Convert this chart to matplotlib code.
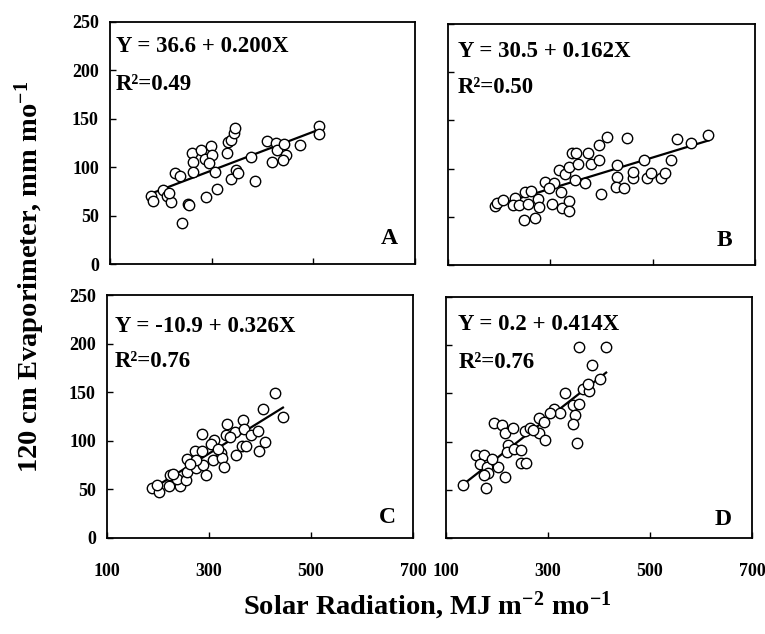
import numpy as np
import matplotlib
matplotlib.use('Agg')
import matplotlib.pyplot as plt

plt.rcParams['font.family'] = ['Liberation Serif', 'DejaVu Serif']
plt.rcParams['font.weight'] = 'bold'
plt.rcParams['mathtext.fontset'] = 'custom'
plt.rcParams['mathtext.rm'] = 'Liberation Serif:bold'
plt.rcParams['mathtext.bf'] = 'Liberation Serif:bold'
plt.rcParams['mathtext.default'] = 'rm'

# panel A
a_x = [180, 184, 204, 212, 220, 216, 227, 237, 241, 253, 255, 261, 264, 263, 280, 298,
       286, 300, 294, 288, 311, 306, 339, 347, 351, 331, 333, 339, 343, 345, 377, 386,
       409, 426, 429, 443, 447, 440, 418, 473, 512, 512]
a_y = [70, 65, 76, 70, 64, 73, 94, 91, 42, 62, 61, 115, 105, 95, 118, 122,
       108, 113, 104, 69, 77, 95, 88, 97, 94, 115, 126, 128, 135, 140, 111, 86,
       127, 125, 118, 124, 113, 107, 105, 123, 143, 134]

# panel B
b_x = [192, 195, 208, 231, 228, 238, 250, 262, 257, 249, 270, 276, 277, 290, 304, 307,
       320, 323, 337, 336, 316, 328, 337, 342, 350, 355, 373, 380, 396, 396, 410, 349,
       368, 399, 430, 430, 428, 444, 449, 461, 462, 483, 488, 496, 516, 525, 536, 548,
       574, 609, 298]
b_y = [61, 64, 67, 69, 62, 62, 76, 77, 63, 47, 49, 68, 60, 86, 63, 85,
       76, 59, 66, 56, 99, 94, 102, 116, 116, 105, 116, 105, 109, 124, 133, 88,
       85, 74, 104, 91, 81, 80, 132, 90, 96, 109, 90, 95, 90, 95, 109, 131,
       127, 135, 80]

# panel C
c_x = [188, 201, 198, 221, 223, 244, 237, 254, 256, 257, 274, 272, 287, 289, 295, 287,
       307, 309, 323, 326, 330, 333, 335, 350, 353, 366, 364, 373, 369, 383, 396, 399,
       410, 406, 429, 445, 303, 274, 318, 342, 230, 262]
c_y = [51, 47, 55, 53, 65, 53, 61, 60, 68, 81, 72, 89, 89, 75, 65, 107,
       80, 101, 87, 82, 73, 106, 117, 109, 85, 121, 95, 95, 112, 106, 110, 89,
       99, 133, 149, 124, 97, 80, 92, 104, 66, 76]

# panel D
d_x = [133, 179, 215, 159, 175, 166, 181, 182, 202, 221, 220, 234, 248, 248, 256, 195,
       209, 215, 231, 254, 264, 282, 293, 282, 295, 312, 323, 303, 333, 349, 360, 353,
       349, 356, 369, 380, 379, 387, 402, 360, 414, 175, 190, 270]
d_y = [55, 52, 63, 86, 86, 77, 74, 67, 74, 96, 89, 92, 91, 78, 78, 119,
       117, 109, 114, 111, 114, 124, 120, 109, 102, 134, 130, 130, 150, 138, 139, 128,
       118, 99, 155, 153, 160, 179, 165, 198, 198, 65, 82, 112]

intercepts = [36.6, 30.5, -10.9, 0.2]
slopes = [0.200, 0.162, 0.326, 0.414]
eq_text = ['Y = 36.6 + 0.200X', 'Y = 30.5 + 0.162X', 'Y = -10.9 + 0.326X', 'Y = 0.2 + 0.414X']
r2_text = ['R\u00b2=0.49', 'R\u00b2=0.50', 'R\u00b2=0.76', 'R\u00b2=0.76']
letters = ['A', 'B', 'C', 'D']
xs = [a_x, b_x, c_x, d_x]
ys = [a_y, b_y, c_y, d_y]

W, H = 765, 634
# frame boxes in pixels: left, top, right, bottom
boxes = [(110, 22, 415, 264), (448, 24, 755, 265), (107, 295, 413, 538), (446, 297, 752, 538)]
eq_pos = [(0.02, 0.90, 0.74), (0.033, 0.885, 0.735), (0.026, 0.87, 0.725), (0.04, 0.885, 0.727)]
let_pos = [(0.915, 0.107), (0.90, 0.10), (0.915, 0.083), (0.905, 0.075)]

fig = plt.figure(figsize=(W / 100, H / 100), dpi=100)

for i in range(4):
    l, t, r, b = boxes[i]
    ax = fig.add_axes([l / W, 1 - b / H, (r - l) / W, (b - t) / H])
    x = np.array(xs[i])
    y = np.array(ys[i])
    ax.plot(x, y, 'o', ms=7.5, mfc='white', mec='black', mew=1.0, zorder=3)
    lx = np.array([x.min(), x.max()])
    ax.plot(lx, intercepts[i] + slopes[i] * lx, color='black', lw=1.6, zorder=2)
    ax.set_xlim(100, 700)
    ax.set_ylim(0, 250)
    ax.set_xticks([100, 300, 500, 700])
    ax.set_yticks([0, 50, 100, 150, 200, 250])
    ax.tick_params(direction='in', length=4, width=1, labelsize=13, pad=8)
    ax.tick_params(axis='x', pad=18)
    if i % 2 == 1:
        ax.set_yticklabels([])
    if i < 2:
        ax.set_xticklabels([])
    for s in ax.spines.values():
        s.set_linewidth(1.3)
    ex, ey, ry = eq_pos[i]
    ax.text(ex, ey, eq_text[i], transform=ax.transAxes, fontsize=16.5, fontweight='bold',
            ha='left', va='center')
    ax.text(ex, ry, r2_text[i], transform=ax.transAxes, fontsize=16.5, fontweight='bold',
            ha='left', va='center')
    px, py = let_pos[i]
    ax.text(px, py, letters[i], transform=ax.transAxes, fontsize=17, fontweight='bold',
            ha='center', va='center')

fig.text(30 / W, 1 - 277 / H, r'120 cm Evaporimeter, mm mo$^{-1}$', rotation=90,
         fontsize=20.5, fontweight='bold', ha='center', va='center')
fig.text(427 / W, 1 - 606 / H, r'Solar Radiation, MJ m$^{-2}$ mo$^{-1}$',
         fontsize=20.5, fontweight='bold', ha='center', va='center')

fig.savefig('out.png', dpi=100)
